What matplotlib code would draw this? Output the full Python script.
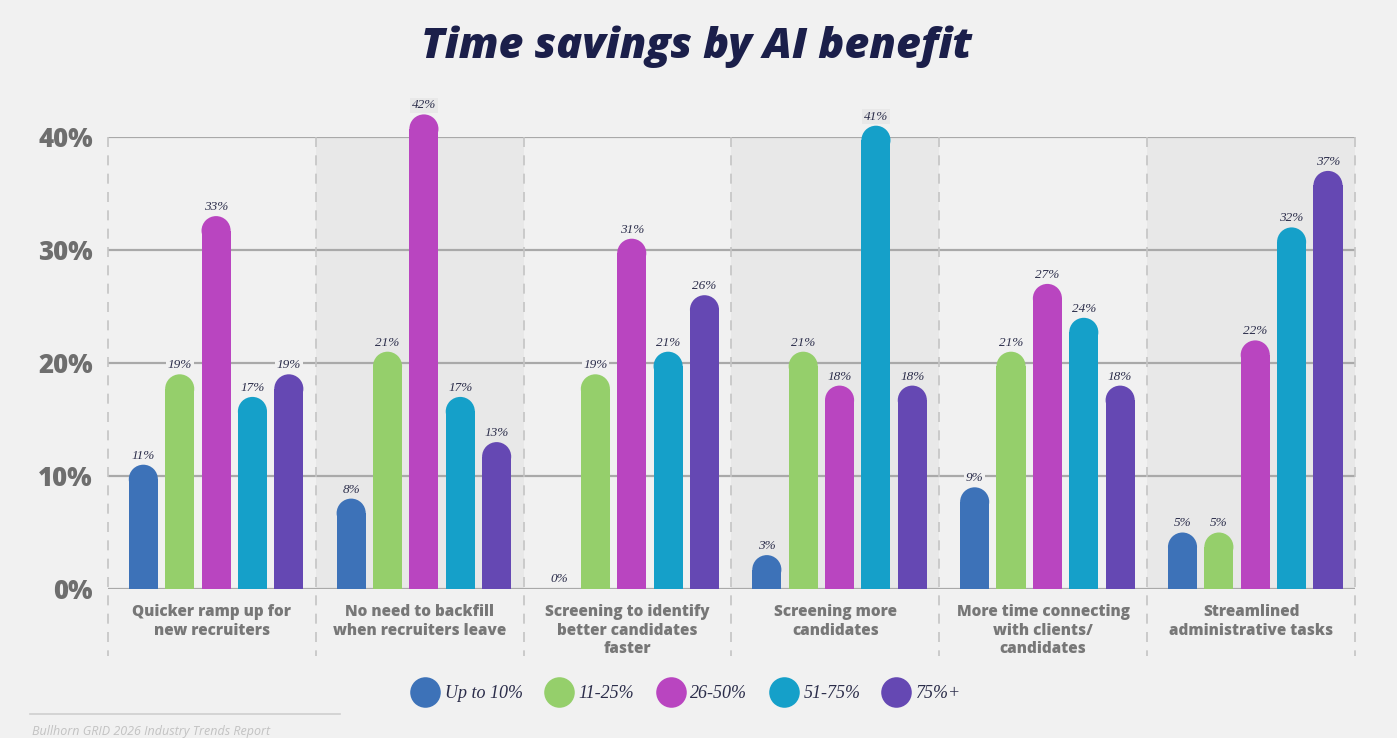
import matplotlib
matplotlib.use("Agg")
import matplotlib.pyplot as plt
from matplotlib.patches import Ellipse, Rectangle
from matplotlib.lines import Line2D
import numpy as np

# data
categories = ["Quicker ramp up for\nnew recruiters",
              "No need to backfill\nwhen recruiters leave",
              "Screening to identify\nbetter candidates\nfaster",
              "Screening more\ncandidates",
              "More time connecting\nwith clients/\ncandidates",
              "Streamlined\nadministrative tasks"]
series_names = ["Up to 10%", "11-25%", "26-50%", "51-75%", "75%+"]
up_to_10 = [11, 8, 0, 3, 9, 5]
p11_25 = [19, 21, 19, 21, 21, 5]
p26_50 = [33, 42, 31, 18, 27, 22]
p51_75 = [17, 17, 21, 41, 24, 32]
p75_plus = [19, 13, 26, 18, 18, 37]
yticks = [0, 10, 20, 30, 40]

series = [up_to_10, p11_25, p26_50, p51_75, p75_plus]
colors = ["#3d72b8", "#95cf6b", "#b945c0", "#15a0c9", "#6548b3"]

BG = "#f1f1f1"
SHADE = "#e8e8e8"
NAVY = "#1b1f4a"
GRAY = "#6e6e6e"

W, H = 1397, 738
fig = plt.figure(figsize=(W / 100, H / 100), dpi=100, facecolor=BG)

left, right, bottom, top = 108, 1355, 589, 137
ax = fig.add_axes([left / W, 1 - bottom / H, (right - left) / W, (bottom - top) / H])
ax.set_facecolor(BG)
ax.set_xlim(-0.5, 5.5)
ax.set_ylim(0, 40)
for s in ax.spines.values():
    s.set_visible(False)

n = len(categories)
x = np.arange(n)
step = 0.175
bw = 0.14
shift = 0.02

# pixels per data unit, so the round caps come out as circles
px_x = (right - left) / 6.0
px_y = (bottom - top) / 40.0
r_y = (bw * px_x / 2) / px_y

# alternating shaded bands
for i in range(n):
    if i % 2 == 1:
        ax.add_patch(Rectangle((i - 0.5, 0), 1, 40, facecolor=SHADE, edgecolor="none", zorder=0))

# gridlines
for t in yticks:
    ax.axhline(t, color="#a9a9a9", lw=1.6, zorder=1)

# dashed separators
for i in range(n + 1):
    ax.plot([i - 0.5, i - 0.5], [40, -5.9], color="#c4c4c4", lw=1.2,
            ls=(0, (6, 5)), clip_on=False, zorder=1)

for j, (vals, c) in enumerate(zip(series, colors)):
    xs = x + (j - 2) * step + shift
    for i, (xx, v) in enumerate(zip(xs, vals)):
        band = SHADE if i % 2 == 1 else BG
        if v > 0:
            ax.bar(xx, v - r_y, width=bw, color=c, zorder=3, clip_on=False)
            ax.add_patch(Ellipse((xx, v - r_y), bw, 2 * r_y, facecolor=c,
                                 edgecolor="none", zorder=3, clip_on=False))
            ty = v + 9 / px_y
        else:
            ty = 10 / px_y
        ax.text(xx, ty, f"{v}%", ha="center", va="center", fontsize=9.5,
                family="Liberation Serif", style="italic", color="#2b2d4a", zorder=5,
                bbox=dict(facecolor=band, edgecolor="none", pad=1.2))

# y tick labels
ax.set_yticks(yticks)
ax.set_yticklabels([f"{t}%" for t in yticks], fontsize=18.5, fontweight="heavy",
                   family="Open Sans", color=GRAY)
ax.tick_params(axis="y", length=0, pad=11)

# category labels
ax.set_xticks(x)
ax.set_xticklabels(categories, fontsize=11, fontweight="heavy", family="Open Sans",
                   color="#777777", linespacing=1.2, va="top")
ax.tick_params(axis="x", length=0, pad=11)

# title
fig.text(697 / W, 1 - 47 / H, "Time savings by AI benefit", ha="center", va="center",
         fontsize=31, fontweight="heavy", style="italic", family="Open Sans", color=NAVY)

# legend
handles = [Line2D([], [], ls="none", marker="o", markersize=22, markerfacecolor=c,
                  markeredgecolor="none") for c in colors]
leg = fig.legend(handles, series_names, loc="center", ncol=5,
                 bbox_to_anchor=(686 / W, 1 - 694 / H), frameon=False,
                 prop=dict(family="Liberation Serif", style="italic", size=13),
                 handletextpad=0.3, columnspacing=1.2, handlelength=1.6)
for t in leg.get_texts():
    t.set_color("#2b2d4a")

# footer
fig.add_artist(Line2D([30 / W, 340 / W], [1 - 714 / H, 1 - 714 / H], color="#cfcfcf", lw=1.2))
fig.text(32 / W, 1 - 731 / H, "Bullhorn GRID 2026 Industry Trends Report", ha="left",
         va="center", fontsize=9, style="italic", family="Open Sans", color="#c2c2c2")

fig.savefig("out.png", dpi=100, facecolor=BG)
